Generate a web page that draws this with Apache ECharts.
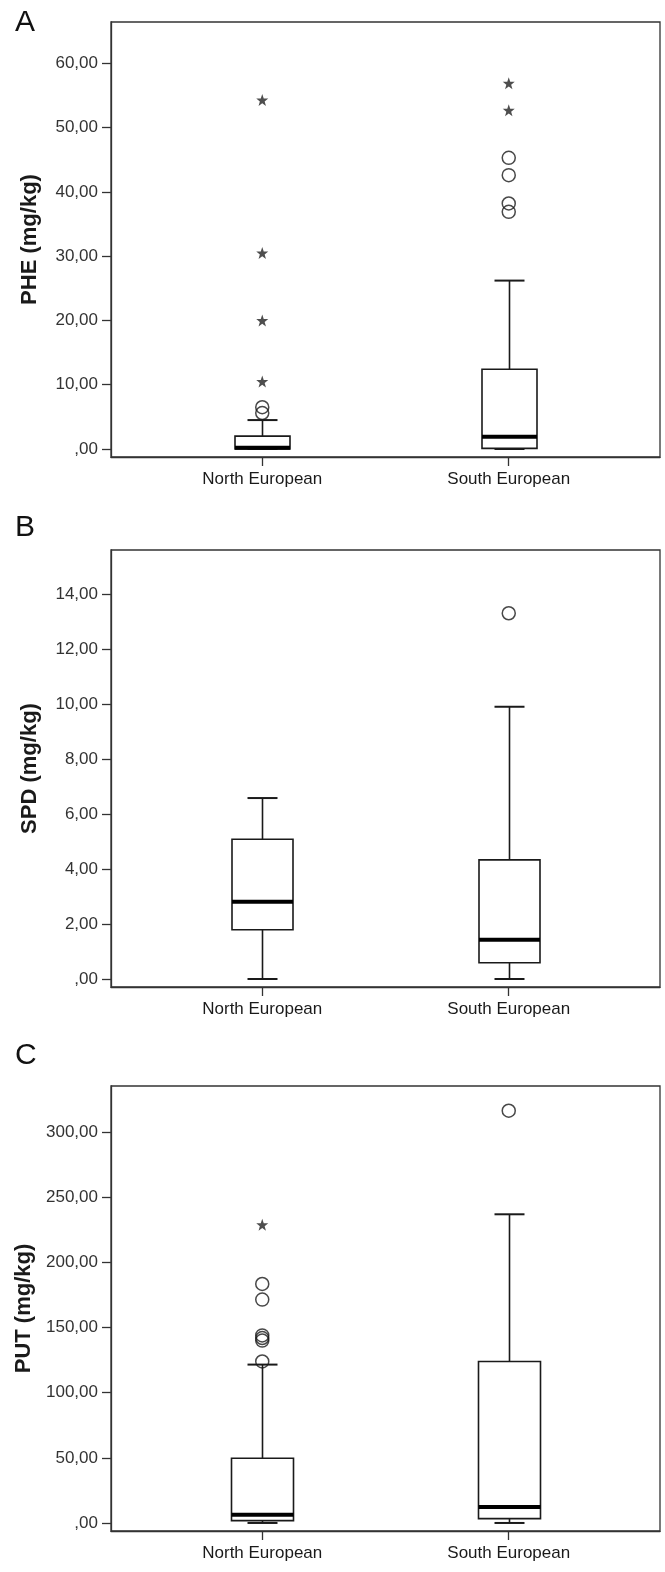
<!DOCTYPE html>
<html><head><meta charset="utf-8">
<script src="https://cdn.jsdelivr.net/npm/echarts@6/dist/echarts.min.js"></script>
<style>html,body{margin:0;padding:0;background:#fff}#c{width:665px;height:1572px}</style>
</head><body><div id="c"></div>
<script>
const categories = ['North European', 'South European'];
// box stats: [lower whisker, Q1, median, Q3, upper whisker]
const pheBoxes = [[0, 0, 0.2, 2.0, 4.5], [0, 0.1, 1.9, 12.4, 26.2]];
const pheCircles = [[0, 6.5], [0, 5.6], [1, 45.3], [1, 42.6], [1, 38.2], [1, 36.9]];
const pheStars = [[0, 10.5], [0, 20.0], [0, 30.5], [0, 54.3], [1, 56.9], [1, 52.7]];
const spdBoxes = [[0, 1.79, 2.81, 5.08, 6.58], [0, 0.59, 1.43, 4.33, 9.9]];
const spdCircles = [[1, 13.3]];
const spdStars = [];
const putBoxes = [[0, 1.8, 6.4, 49.7, 121.6], [0, 3.3, 12.2, 124, 237]];
const putCircles = [[0, 183.5], [0, 171.5], [0, 144], [0, 142], [0, 140], [0, 124], [1, 316.5]];
const putStars = [[0, 229]];
const pheTicks = [0, 10, 20, 30, 40, 50, 60];
const spdTicks = [0, 2, 4, 6, 8, 10, 12, 14];
const putTicks = [0, 50, 100, 150, 200, 250, 300];

const FONT = '"Liberation Sans", Arial, sans-serif';
const INK = '#1a1a1a';
const starPath = 'path://M0,-10L2.35,-3.24L9.51,-3.09L3.8,1.24L5.88,8.09L0,4L-5.88,8.09L-3.8,1.24L-9.51,-3.09L-2.35,-3.24Z';

const panels = [
  {name: 'PHE (mg/kg)', top: 22, bottom: 457, min: -1.245, max: 66.43, ticks: pheTicks, boxes: pheBoxes, circles: pheCircles, stars: pheStars, boxW: 55, letter: 'A', letterTop: 8},
  {name: 'SPD (mg/kg)', top: 550, bottom: 987, min: -0.291, max: 15.6, ticks: spdTicks, boxes: spdBoxes, circles: spdCircles, stars: spdStars, boxW: 61, letter: 'B', letterTop: 513},
  {name: 'PUT (mg/kg)', top: 1086, bottom: 1531, min: -6.17, max: 335.5, ticks: putTicks, boxes: putBoxes, circles: putCircles, stars: putStars, boxW: 62, letter: 'C', letterTop: 1041}
];

function fmt(v) { return v === 0 ? ',00' : v.toFixed(2).replace('.', ','); }

function boxRender(boxW, capW) {
  return function (params, api) {
    const x = api.value(0);
    const lo = api.coord([x, api.value(1)]);
    const q1 = api.coord([x, api.value(2)]);
    const md = api.coord([x, api.value(3)]);
    const q3 = api.coord([x, api.value(4)]);
    const hi = api.coord([x, api.value(5)]);
    const cx = Math.round(lo[0]) + 0.5;
    const thin = {stroke: INK, lineWidth: 1.6};
    const cap = {stroke: INK, lineWidth: 2};
    return {type: 'group', children: [
      {type: 'line', shape: {x1: cx, y1: q3[1], x2: cx, y2: hi[1]}, style: thin},
      {type: 'line', shape: {x1: cx, y1: q1[1], x2: cx, y2: lo[1]}, style: thin},
      {type: 'line', shape: {x1: cx - capW / 2, y1: hi[1], x2: cx + capW / 2, y2: hi[1]}, style: cap},
      {type: 'line', shape: {x1: cx - capW / 2, y1: lo[1], x2: cx + capW / 2, y2: lo[1]}, style: cap},
      {type: 'rect', shape: {x: cx - boxW / 2, y: q3[1], width: boxW, height: q1[1] - q3[1]}, style: {fill: '#fff', stroke: INK, lineWidth: 1.6}},
      {type: 'line', shape: {x1: cx - boxW / 2, y1: md[1], x2: cx + boxW / 2, y2: md[1]}, style: {stroke: '#000', lineWidth: 4}}
    ]};
  };
}

const xMin = -0.6136, xMax = 1.6136;
const option = {
  animation: false,
  backgroundColor: '#fff',
  grid: [], xAxis: [], yAxis: [], series: [], graphic: []
};
panels.forEach((p, i) => {
  option.grid.push({left: 111, right: 5, top: p.top, height: p.bottom - p.top, show: true, borderColor: '#333', borderWidth: 1.3, backgroundColor: '#fff'});
  option.xAxis.push({
    type: 'value', gridIndex: i, min: xMin, max: xMax,
    axisLine: {show: true, onZero: false, lineStyle: {color: '#333', width: 1.3}},
    axisTick: {show: true, length: 9, customValues: [0, 1], lineStyle: {color: '#333', width: 1.3}},
    axisLabel: {customValues: [0, 1], formatter: v => categories[Math.round(v)], margin: 14, fontFamily: FONT, fontSize: 17, color: INK},
    splitLine: {show: false}
  });
  option.yAxis.push({
    type: 'value', gridIndex: i, min: p.min, max: p.max,
    name: p.name, nameLocation: 'middle', nameGap: 70,
    nameTextStyle: {fontFamily: FONT, fontWeight: 'bold', fontSize: 22, color: INK},
    axisLine: {show: true, onZero: false, lineStyle: {color: '#333', width: 1.3}},
    axisTick: {show: true, length: 9, customValues: p.ticks, lineStyle: {color: '#333', width: 1.3}},
    axisLabel: {customValues: p.ticks, formatter: fmt, margin: 13, fontFamily: FONT, fontSize: 17, color: '#333'},
    splitLine: {show: false}
  });
  option.series.push({
    type: 'custom', xAxisIndex: i, yAxisIndex: i, renderItem: boxRender(p.boxW, 30),
    encode: {x: 0, y: [1, 2, 3, 4, 5]},
    data: p.boxes.map((b, k) => [k].concat(b)), z: 2
  });
  option.series.push({
    type: 'scatter', xAxisIndex: i, yAxisIndex: i, symbol: 'circle', symbolSize: 13,
    itemStyle: {color: 'rgba(255,255,255,0)', borderColor: INK, borderWidth: 1.5},
    data: p.circles, z: 3
  });
  option.series.push({
    type: 'scatter', xAxisIndex: i, yAxisIndex: i, symbol: starPath, symbolSize: 12,
    itemStyle: {color: '#222'},
    data: p.stars, z: 3
  });
  option.graphic.push({type: 'text', left: 15, top: p.letterTop, style: {text: p.letter, font: '30px ' + FONT, fill: '#111'}});
});
const chart = echarts.init(document.getElementById('c'), null, {renderer: 'canvas'});
chart.setOption(option);
</script>
</body></html>
